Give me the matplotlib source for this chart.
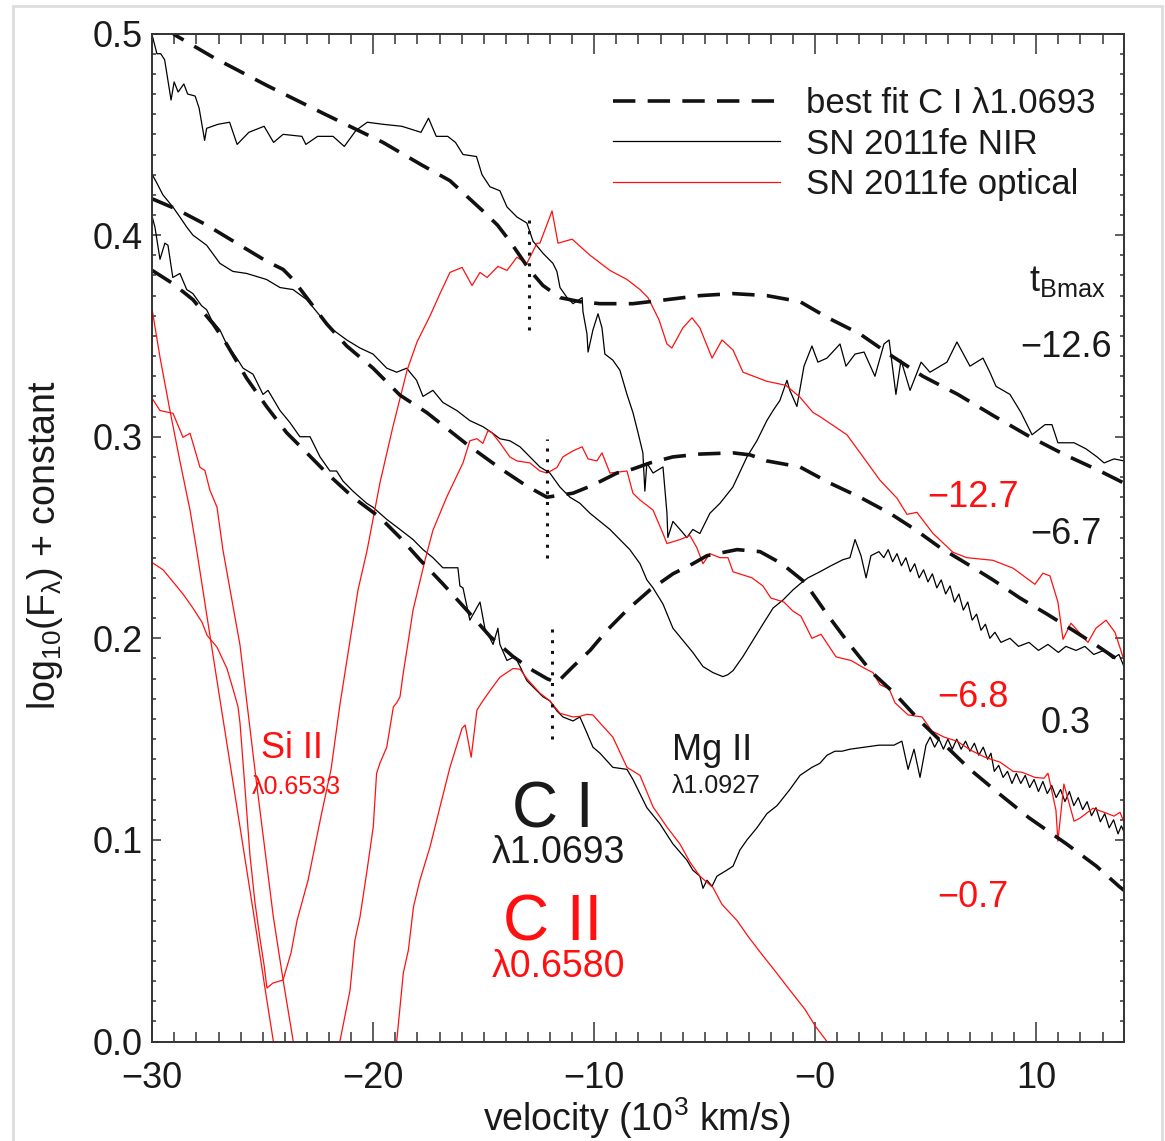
import numpy as np
import matplotlib.pyplot as plt
from matplotlib.lines import Line2D
from matplotlib.patches import Rectangle
from matplotlib.ticker import MultipleLocator

plt.rcParams['font.family'] = ['Liberation Sans', 'DejaVu Sans']
plt.rcParams['mathtext.fontset'] = 'custom'
plt.rcParams['mathtext.rm'] = 'Liberation Sans'
plt.rcParams['mathtext.it'] = 'Liberation Sans:italic'
plt.rcParams['mathtext.sf'] = 'Liberation Sans'

# velocity (10^3 km/s), log10(F) + constant
# SN 2011fe NIR spectra (C I 1.0693 frame)
nir_m126 = np.array([
    (-30.00, 0.499), (-29.79, 0.490), (-29.62, 0.490), (-29.44, 0.487), (-29.15, 0.467),
    (-29.01, 0.476), (-28.83, 0.471), (-28.57, 0.475), (-28.40, 0.470), (-28.06, 0.469),
    (-27.88, 0.463), (-27.63, 0.447), (-27.54, 0.453), (-27.02, 0.455), (-26.50, 0.456),
    (-26.16, 0.445), (-25.63, 0.451), (-24.94, 0.454), (-24.51, 0.446), (-24.08, 0.450),
    (-23.23, 0.449), (-23.05, 0.445), (-22.52, 0.449), (-21.82, 0.449), (-21.31, 0.444),
    (-20.78, 0.452), (-20.27, 0.456), (-19.57, 0.455), (-18.71, 0.454), (-17.84, 0.451),
    (-17.50, 0.458), (-17.15, 0.449), (-16.63, 0.449), (-16.28, 0.446), (-15.94, 0.440),
    (-15.33, 0.439), (-15.08, 0.430), (-14.72, 0.424), (-14.27, 0.422), (-13.95, 0.414),
    (-13.50, 0.409), (-13.05, 0.406), (-12.77, 0.397), (-12.32, 0.391), (-11.87, 0.386),
    (-11.69, 0.382), (-11.55, 0.374), (-11.23, 0.369), (-10.96, 0.366), (-10.55, 0.369),
    (-10.51, 0.362), (-10.33, 0.351), (-10.28, 0.342), (-10.06, 0.353), (-9.83, 0.361),
    (-9.65, 0.354), (-9.52, 0.341), (-9.16, 0.338), (-8.84, 0.333), (-8.52, 0.321),
    (-8.25, 0.312), (-8.02, 0.302), (-7.80, 0.292), (-7.71, 0.273), (-7.62, 0.287),
    (-7.34, 0.282), (-6.89, 0.285), (-6.71, 0.262), (-6.67, 0.250), (-6.44, 0.258),
    (-6.12, 0.254), (-5.81, 0.250), (-5.54, 0.254), (-5.22, 0.252), (-4.77, 0.262),
    (-4.31, 0.267), (-3.73, 0.275), (-3.09, 0.290), (-2.64, 0.298), (-2.19, 0.308),
    (-1.91, 0.313), (-1.60, 0.318), (-1.28, 0.328), (-1.15, 0.323), (-0.83, 0.315),
    (-0.51, 0.335), (-0.15, 0.345), (0.12, 0.337), (0.53, 0.339), (1.12, 0.346),
    (1.39, 0.335), (1.80, 0.341), (2.21, 0.342), (2.70, 0.330), (3.11, 0.346),
    (3.34, 0.348), (3.65, 0.321), (3.88, 0.338), (4.29, 0.323), (4.79, 0.337),
    (5.19, 0.332), (5.96, 0.337), (6.41, 0.347), (7.00, 0.335), (7.59, 0.339),
    (7.90, 0.332), (8.18, 0.325), (8.81, 0.321), (9.31, 0.312), (9.81, 0.301),
    (10.40, 0.306), (10.71, 0.306), (10.98, 0.297), (11.71, 0.297), (12.25, 0.294),
    (12.75, 0.290), (13.07, 0.287), (13.52, 0.289), (13.97, 0.288)])

nir_m67 = np.array([
    (-30.00, 0.430), (-29.80, 0.426), (-29.52, 0.420), (-29.07, 0.414), (-28.75, 0.409),
    (-28.44, 0.404), (-28.16, 0.400), (-27.54, 0.395), (-26.94, 0.386), (-26.35, 0.382),
    (-25.73, 0.381), (-24.83, 0.378), (-24.22, 0.374), (-23.63, 0.373), (-23.01, 0.368),
    (-22.41, 0.360), (-21.82, 0.353), (-21.20, 0.348), (-20.60, 0.344), (-20.01, 0.341),
    (-19.39, 0.334), (-18.94, 0.332), (-18.49, 0.334), (-18.04, 0.328), (-17.75, 0.320),
    (-17.30, 0.323), (-16.85, 0.317), (-16.22, 0.313), (-15.63, 0.308), (-15.04, 0.305),
    (-14.63, 0.302), (-14.27, 0.299), (-13.82, 0.298), (-13.36, 0.295), (-12.91, 0.290),
    (-12.46, 0.285), (-12.01, 0.282), (-11.55, 0.275), (-11.10, 0.270), (-10.65, 0.267),
    (-10.19, 0.262), (-9.74, 0.258), (-9.29, 0.254), (-8.84, 0.249), (-8.39, 0.244),
    (-7.93, 0.237), (-7.62, 0.229), (-7.34, 0.225), (-6.89, 0.217), (-6.44, 0.205),
    (-5.99, 0.199), (-5.54, 0.193), (-5.08, 0.186), (-4.63, 0.183), (-4.18, 0.181),
    (-3.95, 0.182), (-3.72, 0.184), (-3.27, 0.191), (-2.82, 0.199), (-2.37, 0.207),
    (-1.91, 0.215), (-1.46, 0.219), (-1.01, 0.224), (-0.69, 0.227), (-0.33, 0.230),
    (0.21, 0.233), (0.71, 0.236), (1.25, 0.239), (1.57, 0.240), (1.80, 0.249),
    (2.07, 0.241), (2.30, 0.230), (2.52, 0.241), (2.88, 0.243), (3.10, 0.240),
    (3.30, 0.244), (3.50, 0.238), (3.70, 0.242), (3.90, 0.236), (4.10, 0.240),
    (4.30, 0.233), (4.50, 0.237), (4.70, 0.230), (4.90, 0.234), (5.10, 0.228),
    (5.30, 0.232), (5.50, 0.225), (5.70, 0.229), (5.90, 0.222), (6.10, 0.226),
    (6.30, 0.218), (6.50, 0.222), (6.70, 0.214), (6.90, 0.218), (7.10, 0.209),
    (7.30, 0.212), (7.50, 0.204), (7.70, 0.207), (7.90, 0.200), (8.13, 0.203),
    (8.40, 0.198), (8.81, 0.200), (9.20, 0.196), (9.67, 0.198), (10.10, 0.194),
    (10.53, 0.197), (11.00, 0.193), (11.34, 0.196), (11.80, 0.194), (12.20, 0.196),
    (12.60, 0.192), (13.06, 0.194), (13.47, 0.190), (13.74, 0.192), (13.97, 0.186)])

nir_p03 = np.array([
    (-30.00, 0.409), (-29.88, 0.404), (-29.65, 0.388), (-29.43, 0.396), (-29.29, 0.395),
    (-29.07, 0.379), (-28.75, 0.381), (-28.44, 0.373), (-28.16, 0.371), (-27.77, 0.365),
    (-27.54, 0.363), (-27.32, 0.358), (-26.94, 0.353), (-26.64, 0.346), (-26.18, 0.339),
    (-25.89, 0.334), (-25.44, 0.331), (-24.99, 0.321), (-24.76, 0.323), (-24.22, 0.313),
    (-23.77, 0.307), (-23.32, 0.300), (-22.86, 0.300), (-22.41, 0.290), (-21.96, 0.283),
    (-21.66, 0.283), (-21.37, 0.278), (-20.92, 0.273), (-20.30, 0.267), (-20.01, 0.265),
    (-19.39, 0.259), (-18.79, 0.254), (-18.20, 0.249), (-17.75, 0.244), (-17.30, 0.240),
    (-16.85, 0.235), (-16.39, 0.235), (-16.17, 0.235), (-16.08, 0.226), (-15.94, 0.225),
    (-15.63, 0.209), (-15.17, 0.218), (-14.95, 0.205), (-14.58, 0.197), (-14.36, 0.205),
    (-14.27, 0.197), (-13.95, 0.189), (-13.59, 0.191), (-13.36, 0.186), (-13.05, 0.179),
    (-12.59, 0.174), (-12.32, 0.171), (-12.01, 0.169), (-11.69, 0.164), (-11.42, 0.161),
    (-10.96, 0.159), (-10.65, 0.161), (-10.33, 0.153), (-10.06, 0.146), (-9.74, 0.143),
    (-9.16, 0.136), (-8.52, 0.135), (-8.25, 0.130), (-7.62, 0.116), (-7.03, 0.108),
    (-6.44, 0.098), (-5.81, 0.090), (-5.54, 0.085), (-5.22, 0.082), (-5.08, 0.076),
    (-4.90, 0.080), (-4.67, 0.077), (-4.45, 0.082), (-4.00, 0.085), (-3.72, 0.087),
    (-3.41, 0.095), (-3.09, 0.100), (-2.64, 0.106), (-2.19, 0.113), (-1.73, 0.117),
    (-1.15, 0.125), (-0.69, 0.132), (-0.15, 0.136), (0.21, 0.138), (0.53, 0.142),
    (0.89, 0.144), (1.21, 0.144), (1.57, 0.145), (2.21, 0.146), (2.88, 0.147),
    (3.56, 0.147), (3.92, 0.149), (4.20, 0.135), (4.47, 0.145), (4.74, 0.131),
    (5.01, 0.147), (5.20, 0.151), (5.40, 0.146), (5.60, 0.150), (5.80, 0.145),
    (6.00, 0.150), (6.20, 0.145), (6.40, 0.150), (6.60, 0.145), (6.80, 0.149),
    (7.00, 0.144), (7.20, 0.148), (7.40, 0.142), (7.60, 0.146), (7.80, 0.140),
    (7.95, 0.143), (8.10, 0.134), (8.30, 0.137), (8.50, 0.131), (8.70, 0.134),
    (8.90, 0.128), (9.10, 0.133), (9.30, 0.128), (9.50, 0.132), (9.70, 0.126),
    (9.90, 0.130), (10.10, 0.124), (10.30, 0.129), (10.50, 0.123), (10.70, 0.127),
    (10.90, 0.121), (11.10, 0.125), (11.30, 0.119), (11.50, 0.124), (11.70, 0.117),
    (11.90, 0.121), (12.10, 0.115), (12.30, 0.119), (12.50, 0.112), (12.70, 0.116),
    (12.90, 0.109), (13.10, 0.113), (13.30, 0.106), (13.50, 0.110), (13.70, 0.103),
    (13.85, 0.107), (13.97, 0.104)])

# SN 2011fe optical spectra (C II 0.6580 frame)
opt_m127 = np.array([
    (-30.00, 0.2375), (-29.51, 0.234), (-29.06, 0.228), (-28.61, 0.222), (-28.16, 0.215),
    (-27.75, 0.208), (-27.52, 0.2015), (-27.07, 0.1956), (-26.62, 0.185), (-26.35, 0.175),
    (-26.12, 0.166), (-26.03, 0.158), (-25.80, 0.125), (-25.58, 0.0925), (-25.35, 0.0687),
    (-25.13, 0.0513), (-24.94, 0.0379), (-24.81, 0.0265), (-24.54, 0.029), (-24.08, 0.0305),
    (-23.95, 0.0355), (-23.72, 0.044), (-23.45, 0.060), (-22.95, 0.080), (-22.36, 0.112),
    (-21.91, 0.135), (-21.51, 0.167), (-21.05, 0.199), (-20.69, 0.224), (-20.28, 0.2436),
    (-19.70, 0.277), (-19.11, 0.305), (-18.47, 0.333), (-18.02, 0.347), (-17.43, 0.360),
    (-16.98, 0.371), (-16.53, 0.3815), (-15.98, 0.384), (-15.53, 0.375), (-15.17, 0.3815),
    (-14.85, 0.379), (-14.36, 0.3845), (-13.95, 0.3825), (-13.50, 0.389), (-13.05, 0.386),
    (-12.59, 0.396), (-12.46, 0.396), (-11.91, 0.412), (-11.64, 0.396), (-11.00, 0.398),
    (-10.19, 0.390), (-9.29, 0.3825), (-8.52, 0.378), (-7.93, 0.373), (-7.57, 0.369),
    (-7.07, 0.358), (-6.71, 0.346), (-6.49, 0.344), (-5.99, 0.354), (-5.58, 0.359),
    (-5.22, 0.354), (-4.67, 0.339), (-4.22, 0.348), (-3.72, 0.343), (-3.27, 0.332),
    (-2.19, 0.3275), (-1.33, 0.3255), (-0.69, 0.3196), (-0.10, 0.312), (0.21, 0.310),
    (1.43, 0.301), (2.07, 0.2914), (2.93, 0.2784), (3.70, 0.2695), (4.15, 0.2615),
    (4.60, 0.2625), (5.33, 0.252), (6.23, 0.2427), (6.86, 0.240), (8.04, 0.2387),
    (8.95, 0.2348), (9.94, 0.2268), (10.30, 0.2323), (10.62, 0.231), (10.98, 0.218),
    (11.21, 0.1995), (11.57, 0.2075), (12.34, 0.198), (12.70, 0.205), (13.16, 0.209),
    (13.56, 0.203), (13.83, 0.194), (13.97, 0.189)])

opt_m68 = np.array([
    (-30.00, 0.3627), (-29.65, 0.3394), (-29.20, 0.313), (-28.75, 0.288), (-28.29, 0.2635),
    (-27.99, 0.2437), (-27.11, 0.1817), (-26.22, 0.1197), (-25.39, 0.0617), (-24.90, 0.0265),
    (-24.52, 0.0), (-23.60, -0.040), (-22.60, -0.055), (-21.90, -0.030), (-21.51, 0.0),
    (-21.05, 0.0255), (-20.83, 0.0503), (-20.60, 0.0618), (-20.30, 0.0835), (-20.00, 0.1065),
    (-19.85, 0.133), (-19.70, 0.138), (-19.39, 0.146), (-19.09, 0.166), (-18.94, 0.168),
    (-18.79, 0.171), (-18.64, 0.183), (-18.41, 0.199), (-18.20, 0.214), (-17.66, 0.2387),
    (-17.30, 0.2536), (-16.68, 0.270), (-15.94, 0.287), (-15.63, 0.298), (-15.31, 0.299),
    (-15.04, 0.2967), (-14.81, 0.303), (-14.63, 0.302), (-14.27, 0.297), (-13.82, 0.290),
    (-13.50, 0.288), (-12.91, 0.287), (-12.46, 0.283), (-12.14, 0.282), (-11.69, 0.2847),
    (-11.42, 0.290), (-10.96, 0.293), (-10.55, 0.295), (-10.28, 0.289), (-9.88, 0.288),
    (-9.65, 0.292), (-9.29, 0.282), (-8.52, 0.283), (-8.25, 0.272), (-7.93, 0.2686),
    (-7.34, 0.2636), (-6.89, 0.252), (-6.71, 0.247), (-6.12, 0.249), (-5.67, 0.251),
    (-5.36, 0.245), (-5.08, 0.237), (-4.77, 0.242), (-4.31, 0.240), (-3.95, 0.240),
    (-3.72, 0.233), (-2.86, 0.230), (-2.37, 0.226), (-2.01, 0.220), (-1.42, 0.218),
    (-1.01, 0.2135), (-0.65, 0.211), (-0.15, 0.200), (0.26, 0.202), (0.94, 0.1908),
    (1.62, 0.189), (2.25, 0.185), (2.61, 0.183), (2.93, 0.177), (3.34, 0.175),
    (3.61, 0.168), (4.20, 0.162), (4.83, 0.161), (5.28, 0.154), (5.83, 0.151),
    (6.41, 0.149), (7.05, 0.1444), (7.68, 0.141), (8.36, 0.1386), (8.95, 0.134),
    (9.35, 0.1336), (9.94, 0.131), (10.35, 0.1306), (10.53, 0.1331), (10.89, 0.1148),
    (10.98, 0.0994), (11.25, 0.1277), (11.71, 0.1093), (11.98, 0.1108), (12.57, 0.1157),
    (13.07, 0.1137), (13.52, 0.1118), (13.79, 0.1137), (13.97, 0.1088)])

opt_m07 = np.array([
    (-30.00, 0.3189), (-29.65, 0.313), (-29.06, 0.3116), (-28.61, 0.2997), (-28.29, 0.3017),
    (-27.84, 0.2848), (-27.62, 0.2833), (-27.39, 0.2734), (-27.07, 0.265), (-26.80, 0.2437),
    (-26.03, 0.1966), (-25.28, 0.128), (-24.52, 0.0617), (-24.08, 0.0305), (-23.62, 0.0),
    (-22.50, -0.050), (-21.00, -0.070), (-19.80, -0.040), (-18.94, 0.0), (-18.64, 0.034),
    (-18.41, 0.0454), (-18.18, 0.0668), (-17.89, 0.080), (-17.43, 0.0966), (-16.98, 0.1164),
    (-16.53, 0.136), (-15.98, 0.1554), (-15.84, 0.157), (-15.57, 0.141), (-15.31, 0.1644),
    (-15.04, 0.169), (-14.72, 0.174), (-14.27, 0.1807), (-13.68, 0.185), (-13.36, 0.1847),
    (-13.05, 0.180), (-12.46, 0.1728), (-12.01, 0.169), (-11.55, 0.1628), (-10.96, 0.161),
    (-10.65, 0.1613), (-10.33, 0.1623), (-10.06, 0.162), (-9.74, 0.158), (-9.16, 0.151),
    (-8.52, 0.136), (-7.93, 0.132), (-7.34, 0.1164), (-6.71, 0.1064), (-6.12, 0.0979),
    (-5.67, 0.089), (-5.22, 0.082), (-4.63, 0.0764), (-4.22, 0.068), (-3.54, 0.060),
    (-3.05, 0.0523), (-2.50, 0.0444), (-1.82, 0.035), (-1.15, 0.0255), (-0.47, 0.016),
    (0.03, 0.0072), (0.53, 0.0), (0.89, -0.007)])

# best fit C I 1.0693 models
fit_m126 = np.array([
    (-29.42, 0.503), (-28.93, 0.499), (-27.21, 0.488), (-24.77, 0.474), (-22.19, 0.460),
    (-19.56, 0.446), (-17.84, 0.435), (-16.53, 0.427), (-15.04, 0.412), (-14.38, 0.405),
    (-13.82, 0.397), (-12.91, 0.3825), (-12.32, 0.375), (-11.55, 0.369), (-10.65, 0.367),
    (-9.74, 0.366), (-8.25, 0.366), (-6.71, 0.368), (-5.22, 0.370), (-3.72, 0.371),
    (-2.19, 0.370), (-0.69, 0.367), (0.57, 0.359), (2.02, 0.351), (3.47, 0.340),
    (4.87, 0.330), (6.45, 0.321), (8.13, 0.310), (9.71, 0.300), (11.30, 0.291),
    (12.88, 0.283), (13.97, 0.277)])

fit_m67 = np.array([
    (-30.00, 0.418), (-28.93, 0.413), (-27.54, 0.405), (-26.03, 0.395), (-24.82, 0.387),
    (-24.08, 0.383), (-23.63, 0.378), (-23.01, 0.369), (-22.11, 0.356), (-21.20, 0.345),
    (-20.01, 0.334), (-18.79, 0.3206), (-17.58, 0.312), (-15.77, 0.2963), (-14.27, 0.2844),
    (-13.05, 0.2755), (-12.14, 0.270), (-10.96, 0.272), (-10.06, 0.276), (-8.97, 0.282),
    (-8.25, 0.284), (-7.48, 0.287), (-6.44, 0.290), (-5.22, 0.2914), (-3.72, 0.292),
    (-2.95, 0.291), (-2.19, 0.288), (-0.69, 0.285), (0.66, 0.277), (2.02, 0.270),
    (3.38, 0.262), (4.51, 0.254), (5.65, 0.245), (6.86, 0.237), (8.04, 0.229),
    (9.26, 0.220), (10.49, 0.212), (11.66, 0.204), (12.66, 0.197), (13.47, 0.191),
    (13.97, 0.188)])

fit_p03 = np.array([
    (-30.00, 0.3825), (-29.07, 0.376), (-28.16, 0.368), (-27.25, 0.356), (-26.64, 0.346),
    (-25.73, 0.329), (-24.83, 0.315), (-23.92, 0.302), (-23.01, 0.292), (-22.11, 0.282),
    (-20.92, 0.270), (-19.70, 0.260), (-18.79, 0.250), (-17.89, 0.239), (-16.85, 0.227),
    (-15.77, 0.214), (-14.72, 0.201), (-13.68, 0.191), (-12.77, 0.184), (-12.14, 0.180),
    (-11.69, 0.178), (-10.96, 0.186), (-10.19, 0.194), (-9.42, 0.204), (-8.52, 0.214),
    (-7.48, 0.224), (-6.44, 0.232), (-5.54, 0.237), (-4.90, 0.241), (-3.54, 0.244),
    (-2.50, 0.243), (-1.51, 0.237), (-0.49, 0.228), (0.53, 0.212), (1.55, 0.197),
    (2.57, 0.183), (3.56, 0.173), (4.74, 0.159), (5.87, 0.147), (7.00, 0.135),
    (8.31, 0.123), (9.67, 0.111), (11.37, 0.098), (12.72, 0.087), (13.74, 0.077),
    (13.97, 0.075)])

# C I absorption minima (dotted markers)
dot_v = [-12.94, -12.15, -11.93]
dot_lo = [0.353, 0.240, 0.150]
dot_hi = [0.411, 0.299, 0.208]

nir_epochs = ['\u221212.6', '\u22126.7', '0.3']
nir_epoch_y = [0.3395, 0.247, 0.1528]
opt_epochs = ['\u221212.7', '\u22126.8', '\u22120.7']
opt_epoch_y = [0.2651, 0.166, 0.0668]

xticks = [-30, -20, -10, 0, 10]
xticklabels = ['\u221230', '\u221220', '\u221210', '\u22120', '10']
yticks = [0.0, 0.1, 0.2, 0.3, 0.4, 0.5]

fig = plt.figure(figsize=(11.65, 11.41), dpi=100)
ax = fig.add_axes([0.1307, 0.0872, 0.8341, 0.8834])

for s in (nir_m126, nir_m67, nir_p03):
    ax.plot(s[:, 0], s[:, 1], color='black', lw=0.9)
for s in (opt_m127, opt_m68, opt_m07):
    ax.plot(s[:, 0], s[:, 1], color='#ff1010', lw=0.9)
for s in (fit_m126, fit_m67, fit_p03):
    ax.plot(s[:, 0], s[:, 1], color='#111111', lw=2.6, dashes=(6.2, 3.4))
ax.vlines(dot_v, dot_lo, dot_hi, colors='#111111', lw=2.2, linestyles=[(0, (1, 2.5))])

ax.set_xlim(-30, 13.97)
ax.set_ylim(0, 0.5)
ax.set_xticks(xticks)
ax.set_xticklabels(xticklabels)
ax.xaxis.set_minor_locator(MultipleLocator(1))
ax.set_yticks(yticks)
ax.set_yticklabels(['%.1f' % v for v in yticks])
ax.yaxis.set_minor_locator(MultipleLocator(0.01))
ax.tick_params(which='both', direction='in', top=True, right=True, width=1.1,
               color='#333333', labelcolor='#1a1a1a')
ax.tick_params(axis='x', which='major', length=14.4, pad=14, labelsize=26)
ax.tick_params(axis='x', which='minor', length=7.2)
ax.tick_params(axis='y', which='major', length=6.8, pad=7, labelsize=26)
ax.tick_params(axis='y', which='minor', length=3.2)
for sp in ax.spines.values():
    sp.set_linewidth(1.4)
    sp.set_color('#333333')

ax.set_xlabel(r'velocity (10$^{\mathregular{3}}$ km/s)', fontsize=27, color='#1a1a1a', va='center')
ax.xaxis.set_label_coords(0.499, -0.076)
ax.set_ylabel(r'log$_{\mathregular{10}}$(F$_{\mathregular{\lambda}}$) + constant', fontsize=27,
              color='#1a1a1a', va='center')
ax.yaxis.set_label_coords(-0.110, 0.4926)

handles = [Line2D([], [], color='#111111', lw=2.6, dashes=(6.2, 3.4)),
           Line2D([], [], color='black', lw=0.9),
           Line2D([], [], color='#ff1010', lw=0.9)]
labels = ['best fit C I \u03bb1.0693', 'SN 2011fe NIR', 'SN 2011fe optical']
ax.legend(handles, labels, loc='upper left', bbox_to_anchor=(0.474, 0.947), frameon=False,
          fontsize=25, handlelength=4.8, handletextpad=0.75, labelspacing=0.22,
          borderpad=0, borderaxespad=0, labelcolor='#1a1a1a')

# line identifications
ax.text(-23.69, 0.1404, 'Si II', color='#ff1010', fontsize=26, ha='center', va='baseline')
ax.text(-23.50, 0.1227, '\u03bb0.6533', color='#ff1010', fontsize=18, ha='center', va='baseline')
ax.text(-11.89, 0.1063, 'C I', color='#1a1a1a', fontsize=46, ha='center', va='baseline')
ax.text(-11.62, 0.0885, '\u03bb1.0693', color='#1a1a1a', fontsize=27, ha='center', va='baseline')
ax.text(-11.89, 0.0503, 'C II', color='#ff1010', fontsize=46, ha='center', va='baseline')
ax.text(-11.62, 0.032, '\u03bb0.6580', color='#ff1010', fontsize=27, ha='center', va='baseline')
ax.text(-4.65, 0.1396, 'Mg II', color='#1a1a1a', fontsize=26, ha='center', va='baseline')
ax.text(-4.46, 0.1231, '\u03bb1.0927', color='#1a1a1a', fontsize=18, ha='center', va='baseline')

# epochs
ax.text(11.41, 0.3724, r'$\mathregular{t_{Bmax}}$', color='#1a1a1a', fontsize=26,
        ha='center', va='baseline')
for lab, y in zip(nir_epochs, nir_epoch_y):
    ax.text(11.35, y, lab, color='#1a1a1a', fontsize=26, ha='center', va='baseline')
for lab, y in zip(opt_epochs, opt_epoch_y):
    ax.text(7.15, y, lab, color='#ff1010', fontsize=26, ha='center', va='baseline')

fig.patches.append(Rectangle((0.0115, -0.01), 0.986, 1.0044, transform=fig.transFigure,
                             fill=False, edgecolor='#dddddd', lw=2))

fig.savefig('out.png', dpi=100)
